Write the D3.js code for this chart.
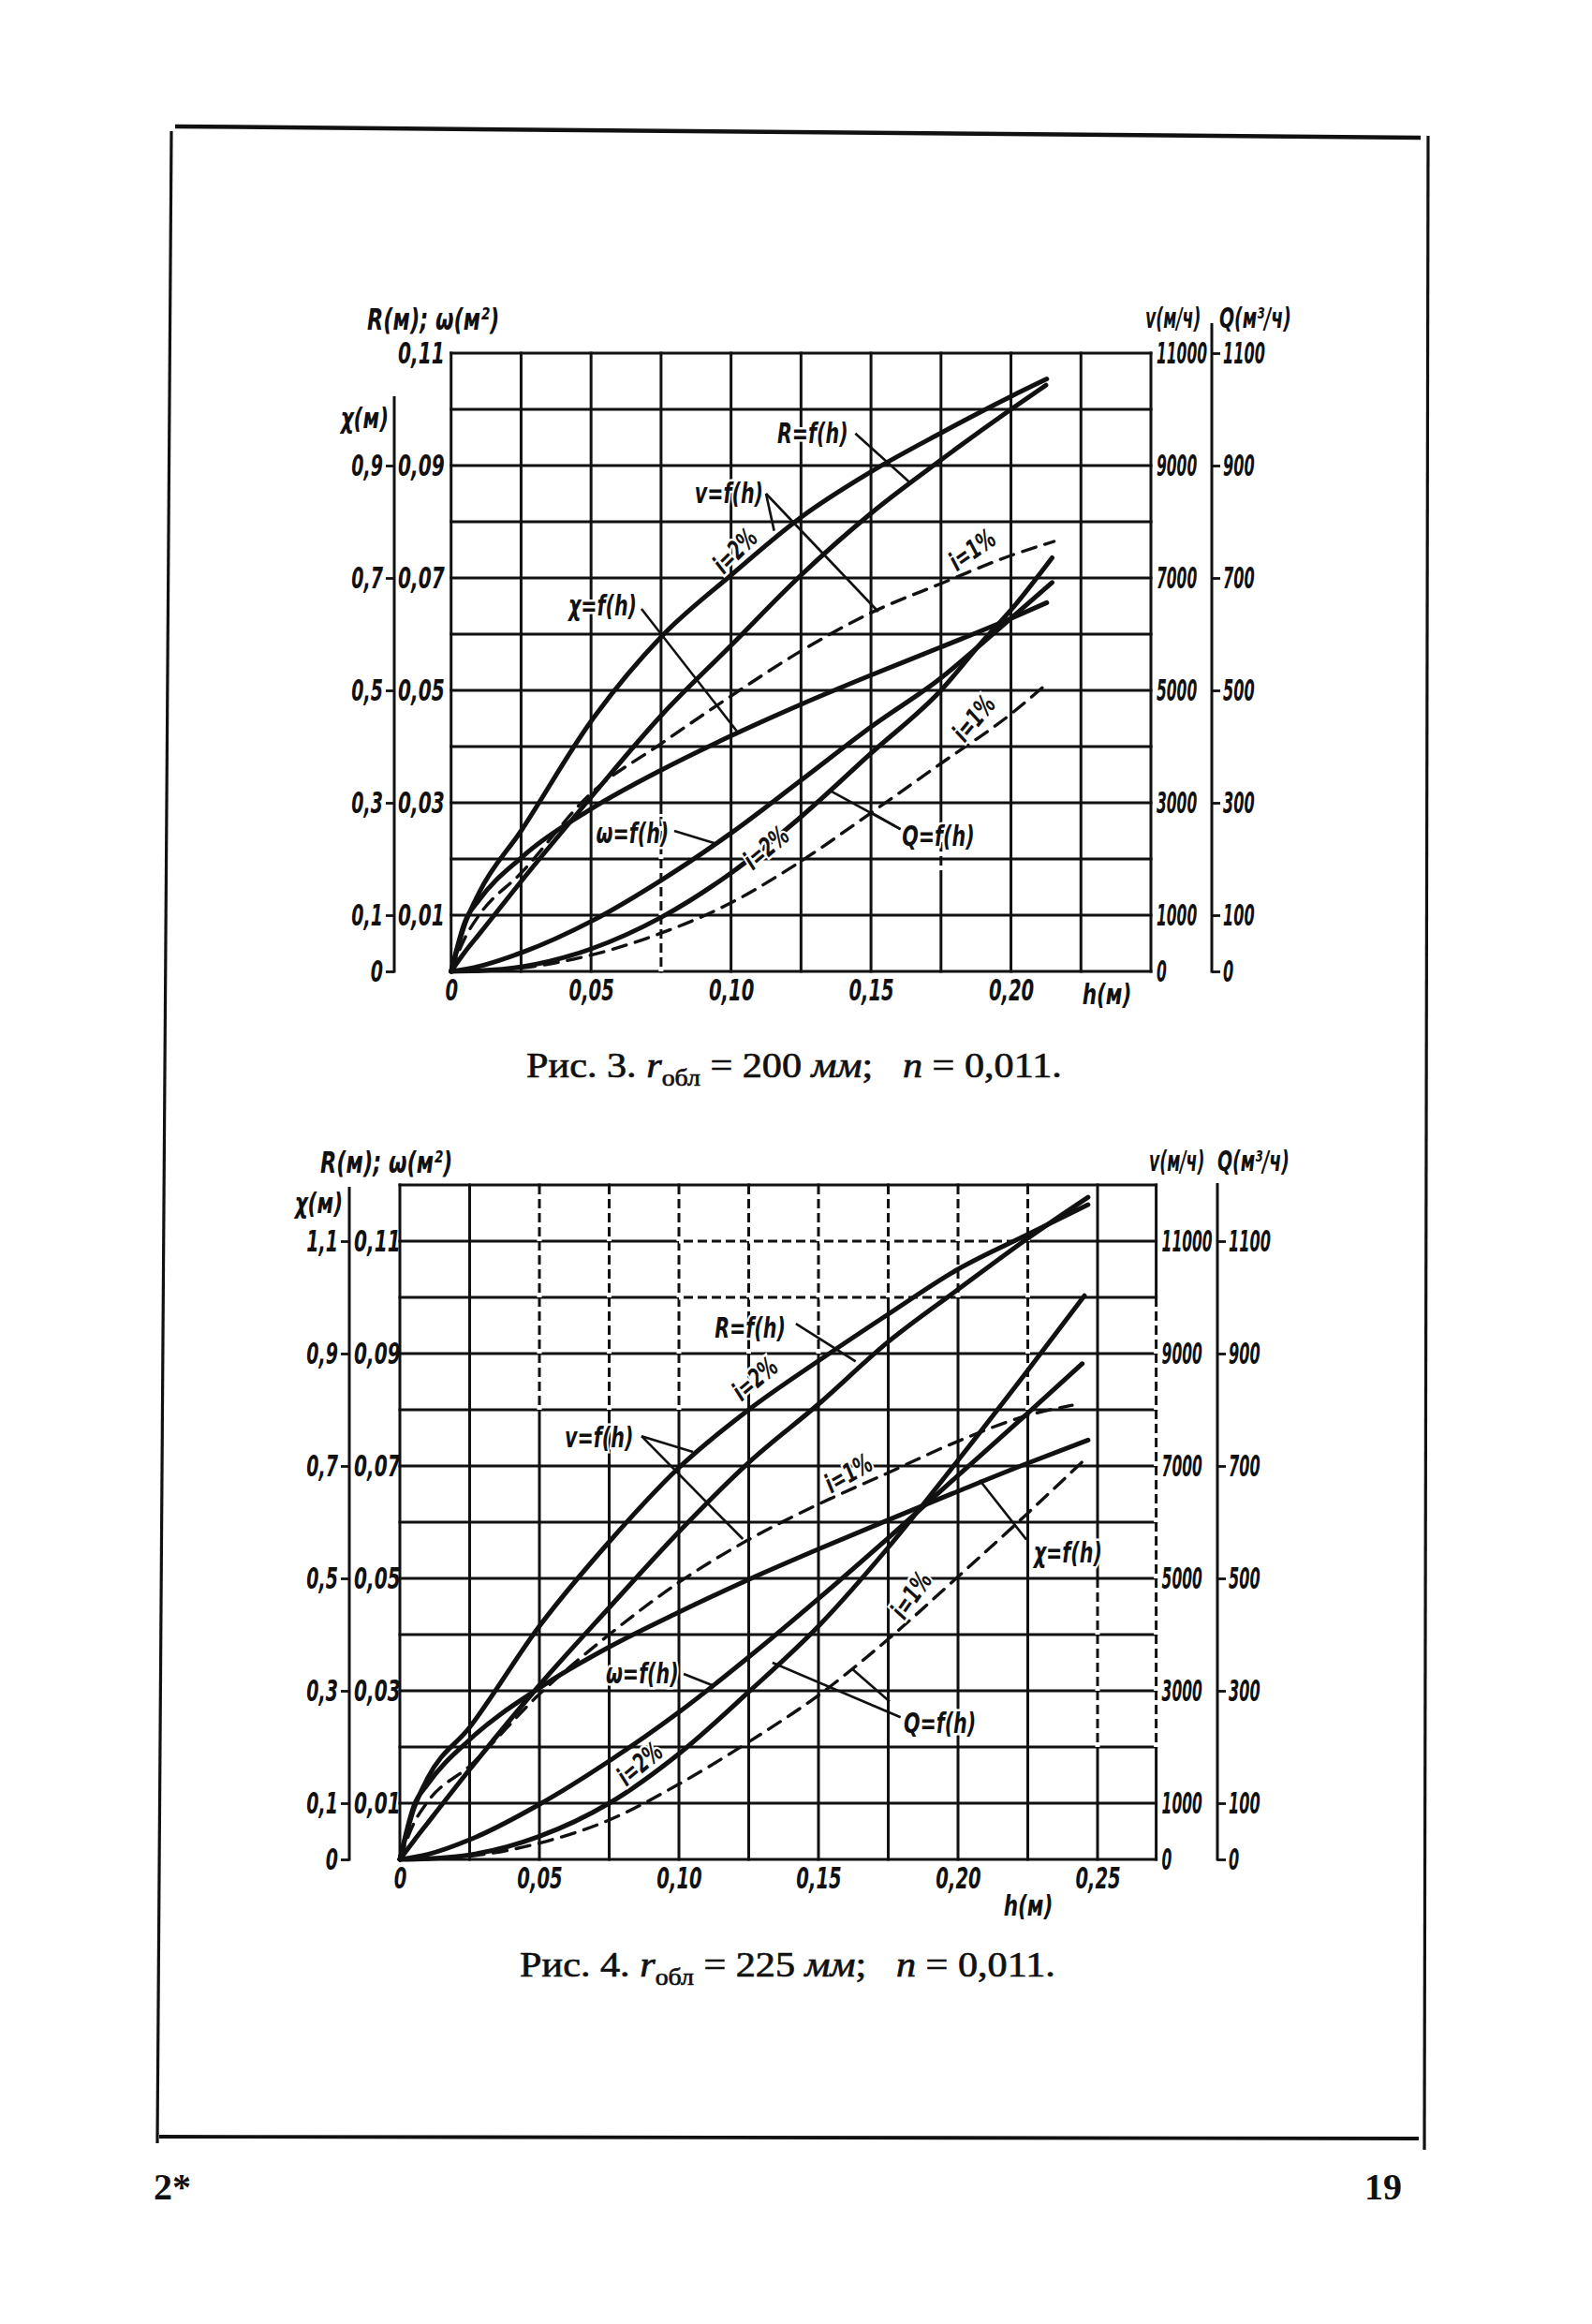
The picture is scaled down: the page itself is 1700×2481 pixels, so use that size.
<!DOCTYPE html>
<html>
<head>
<meta charset="utf-8">
<script src="https://cdn.jsdelivr.net/npm/d3@7"></script>
<style>
  body { margin: 0; background: #fff; }
  .ax { font-family: "DejaVu Sans Condensed", "DejaVu Sans", sans-serif; font-stretch: condensed; font-style: italic; font-weight: bold; }
  .cap { font-family: "Liberation Serif", "DejaVu Serif", serif; white-space: pre; }
</style>
</head>
<body>
<svg id="page" width="1700" height="2481"></svg>
<script>
// ---- Fig. 3, r = 200 mm : [h (m), value] ----
const fig3R = [[0,0],[0.005,0.0035],[0.01,0.0066],[0.025,0.016],[0.05,0.031],[0.075,0.0455],[0.1,0.058],[0.125,0.0705],[0.15,0.0815],[0.175,0.091],[0.2,0.1],[0.2125,0.1043]];
const fig3V2 = [[0,0],[0.005,850],[0.01,1400],[0.025,2500],[0.05,4450],[0.075,5950],[0.1,7050],[0.125,8080],[0.15,8890],[0.175,9580],[0.2,10230],[0.2128,10540]];
const fig3V1 = [[0,0],[0.005,600],[0.01,1000],[0.025,1750],[0.05,3170],[0.075,4050],[0.1,4900],[0.125,5700],[0.15,6380],[0.175,6900],[0.2,7400],[0.2154,7650]];
const fig3Chi = [[0,0],[0.005,0.089],[0.01,0.127],[0.025,0.202],[0.05,0.289],[0.075,0.358],[0.1,0.419],[0.125,0.475],[0.15,0.527],[0.175,0.577],[0.2,0.628],[0.2128,0.656]];
const fig3Omega = [[0,0],[0.01,0.0009],[0.025,0.0033],[0.05,0.0089],[0.075,0.0162],[0.1,0.0246],[0.125,0.034],[0.15,0.0435],[0.175,0.0522],[0.19,0.0585],[0.2,0.0628],[0.2147,0.0692]];
const fig3Q2 = [[0,0],[0.01,1.2],[0.025,8],[0.05,40],[0.075,96],[0.1,175],[0.125,275],[0.15,388],[0.175,500],[0.19,588],[0.2,643],[0.2147,736]];
const fig3Q1 = [[0,0],[0.01,0.8],[0.025,6],[0.05,29],[0.075,68],[0.1,122],[0.125,196],[0.15,282],[0.175,370],[0.2,458],[0.2136,515]];

// ---- Fig. 4, r = 225 mm ----
const fig4R = [[0,0],[0.005,0.0033],[0.01,0.0065],[0.025,0.016],[0.05,0.031],[0.075,0.0448],[0.1,0.0583],[0.125,0.0706],[0.15,0.081],[0.175,0.0921],[0.2,0.1014],[0.225,0.1105],[0.2466,0.1178]];
const fig4V2 = [[0,0],[0.005,900],[0.01,1450],[0.025,2350],[0.05,4150],[0.075,5650],[0.1,6970],[0.125,8000],[0.15,8870],[0.175,9700],[0.2,10500],[0.225,11120],[0.2466,11650]];
const fig4V1 = [[0,0],[0.005,640],[0.01,1030],[0.025,1660],[0.05,2940],[0.075,4000],[0.1,4930],[0.125,5690],[0.15,6320],[0.175,6880],[0.2,7440],[0.225,7900],[0.2409,8080]];
const fig4Chi = [[0,0],[0.005,0.095],[0.01,0.134],[0.025,0.213],[0.05,0.305],[0.075,0.378],[0.1,0.44],[0.125,0.498],[0.15,0.552],[0.175,0.604],[0.2,0.655],[0.225,0.705],[0.2466,0.746]];
const fig4Omega = [[0,0],[0.01,0.0009],[0.025,0.0035],[0.05,0.0098],[0.075,0.0175],[0.1,0.0262],[0.125,0.036],[0.15,0.0464],[0.175,0.0572],[0.2,0.0683],[0.225,0.0794],[0.2445,0.0882]];
const fig4Q2 = [[0,0],[0.01,1.3],[0.025,8],[0.05,41],[0.075,100],[0.1,188],[0.125,298],[0.15,415],[0.175,555],[0.2,710],[0.225,870],[0.2453,1003]];
const fig4Q1 = [[0,0],[0.01,0.9],[0.025,5.7],[0.05,29],[0.075,70],[0.1,134],[0.125,209],[0.15,292],[0.175,392],[0.2,503],[0.225,616],[0.2453,711]];

// ---- tick labels ----
const fig3HTicks = [0, 0.05, 0.10, 0.15, 0.20];
const fig4HTicks = [0, 0.05, 0.10, 0.15, 0.20, 0.25];
const omegaTicks = [0.01, 0.03, 0.05, 0.07, 0.09, 0.11];
const fig3ChiTicks = [0, 0.1, 0.3, 0.5, 0.7, 0.9];
const fig4ChiTicks = [0, 0.1, 0.3, 0.5, 0.7, 0.9, 1.1];
const vTicks = [0, 1000, 3000, 5000, 7000, 9000, 11000];
const qTicks = [0, 100, 300, 500, 700, 900, 1100];

const ink = "#111";
const svg = d3.select("#page");
const ru = d3.formatLocale({decimal: ",", thousands: "", grouping: [3], currency: ["", ""]});
const f2 = ru.format(".2f"), f1 = ru.format(".1f");
const zeroOr = f => d => (d === 0 ? "0" : f(d));

function styleAxis(sel, size, squeeze) {
  sel.attr("font-family", null).attr("font-size", size).attr("class", "ax");
  sel.selectAll(".domain").remove();
  sel.selectAll("line").attr("stroke", ink).attr("stroke-width", 2.8);
  sel.selectAll("text").attr("fill", ink).attr("data-squeeze", squeeze);
}

function drawFigure(cfg) {
  const g = svg.append("g");
  const x = d3.scaleLinear().domain([0, cfg.hMax]).range(cfg.xRange);
  const y = d3.scaleLinear().domain([0, cfg.valMax]).range(cfg.yRange);
  const yChi = d3.scaleLinear().domain([0, cfg.valMax * 10]).range(cfg.yRange);
  const yV = d3.scaleLinear().domain([0, cfg.valMax * 1e5]).range(cfg.yRange);
  const yQ = d3.scaleLinear().domain([0, cfg.valMax * 1e4]).range(cfg.yRange);
  const sc = {w: y, chi: yChi, v: yV, q: yQ};

  // grid
  const vx = d3.range(0, 0.25 + 1e-9, 0.025).concat(cfg.hMax > 0.2501 ? [cfg.hMax] : []);
  const hy = d3.range(0, cfg.valMax + 1e-9, 0.01);
  g.append("g").selectAll("line").data(vx).join("line")
    .attr("x1", d => x(d)).attr("x2", d => x(d))
    .attr("y1", y(0) + 1.5).attr("y2", y(cfg.valMax) - 1.5)
    .attr("stroke", ink).attr("stroke-width", 3);
  g.append("g").selectAll("line").data(hy).join("line")
    .attr("x1", x(0) - 1.5).attr("x2", x(cfg.hMax) + 1.5)
    .attr("y1", d => y(d)).attr("y2", d => y(d))
    .attr("stroke", ink).attr("stroke-width", 3);
  // broken (dash-dot) stretches of the printed grid
  const gaps = g.append("g").attr("stroke", "#fff").attr("stroke-width", 5).attr("stroke-dasharray", "5,10");
  cfg.brokenV.forEach(b => gaps.append("line")
    .attr("x1", x(b[0])).attr("x2", x(b[0])).attr("y1", y(b[1])).attr("y2", y(b[2])));
  cfg.brokenH.forEach(b => gaps.append("line")
    .attr("y1", y(b[0])).attr("y2", y(b[0])).attr("x1", x(b[1])).attr("x2", x(b[2])));

  // curves
  cfg.series.forEach(s => {
    g.append("path").datum(s.data)
      .attr("d", d3.line().x(d => x(d[0])).y(d => sc[s.axis](d[1])).curve(d3.curveMonotoneX))
      .attr("fill", "none").attr("stroke", ink)
      .attr("stroke-width", s.dashed ? 3.4 : 5)
      .attr("stroke-dasharray", s.dashed ? "15,10" : null)
      .attr("stroke-linecap", "round");
  });

  // leaders
  cfg.leaders.forEach(l => {
    g.append("line")
      .attr("x1", x(l[0][0])).attr("y1", y(l[0][1]))
      .attr("x2", x(l[1][0])).attr("y2", y(l[1][1]))
      .attr("stroke", ink).attr("stroke-width", 2.6);
  });

  // left χ axis
  g.append("line").attr("x1", cfg.chiX).attr("x2", cfg.chiX)
    .attr("y1", cfg.chiTop).attr("y2", y(0) + 1.5)
    .attr("stroke", ink).attr("stroke-width", 3);
  g.append("g").attr("transform", `translate(${cfg.chiX},0)`)
    .call(d3.axisLeft(yChi).tickValues(cfg.chiTicks).tickSize(9).tickPadding(3).tickFormat(zeroOr(f1)))
    .call(a => styleAxis(a, 32, 0.66));
  // ω / R labels
  g.append("g").attr("transform", `translate(${cfg.chiX},0)`)
    .call(d3.axisRight(y).tickValues(omegaTicks).tickSize(0).tickPadding(cfg.wPad).tickFormat(f2))
    .call(a => styleAxis(a, 32, 0.7));
  // v labels
  g.append("g").attr("transform", `translate(${x(cfg.hMax)},0)`)
    .call(d3.axisRight(yV).tickValues(vTicks).tickSize(0).tickPadding(6).tickFormat(d => String(d)))
    .call(a => styleAxis(a, 32, 0.54));
  // Q axis
  g.append("line").attr("x1", cfg.qX).attr("x2", cfg.qX)
    .attr("y1", cfg.qTop).attr("y2", y(0) + 1.5)
    .attr("stroke", ink).attr("stroke-width", 3);
  g.append("g").attr("transform", `translate(${cfg.qX},0)`)
    .call(d3.axisRight(yQ).tickValues(qTicks).tickSize(9).tickPadding(3).tickFormat(d => String(d)))
    .call(a => styleAxis(a, 32, 0.56));
  // h axis labels
  g.append("g").attr("transform", `translate(0,${y(0)})`)
    .call(d3.axisBottom(x).tickValues(cfg.hTicks).tickSize(0).tickPadding(8).tickFormat(zeroOr(f2)))
    .call(a => styleAxis(a, 32, 0.68));

  // titles
  const t = (str, p, anchor, size, squeeze) => g.append("text").attr("class", "ax")
    .attr("x", p[0]).attr("y", p[1]).attr("text-anchor", anchor).attr("font-size", size)
    .attr("data-squeeze", squeeze).attr("fill", ink).text(str);
  t("R(м); ω(м²)", cfg.titleRW, "start", 32, 0.78);
  t("χ(м)", cfg.titleChi, "end", 30, 0.8);
  t("v(м/ч)", cfg.titleV, "start", 30, 0.64);
  t("Q(м³/ч)", cfg.titleQ, "start", 30, 0.7);
  t("h(м)", cfg.hLabel, "middle", 30, 0.8);

  // curve labels
  cfg.labels.forEach(l => {
    const px = x(l.at[0]), py = y(l.at[1]);
    g.append("text").attr("class", "ax")
      .attr("x", px).attr("y", py)
      .attr("text-anchor", l.rot ? "middle" : "start")
      .attr("dy", l.rot ? "0.35em" : null)
      .attr("transform", l.rot ? `rotate(${l.rot},${px},${py})` : null)
      .attr("font-size", l.size || 31)
      .attr("data-squeeze", 0.74)
      .attr("fill", ink).attr("stroke", "#fff").attr("stroke-width", 5)
      .attr("paint-order", "stroke")
      .text(l.text);
  });
}

drawFigure({
  hMax: 0.25, valMax: 0.11, xRange: [481.7, 1229], yRange: [1037, 377],
  chiX: 421, chiTop: 423, wPad: 4, qX: 1294, qTop: 345,
  chiTicks: fig3ChiTicks, hTicks: fig3HTicks,
  titleRW: [392, 352], titleChi: [415, 457], titleV: [1223, 350], titleQ: [1302, 350], hLabel: [1182, 1072],
  brokenV: [[0.075, 0, 0.028], [0.175, 0.018, 0.028]],
  brokenH: [],
  series: [
    {data: fig3R, axis: "w"}, {data: fig3V2, axis: "v"}, {data: fig3V1, axis: "v", dashed: true},
    {data: fig3Chi, axis: "chi"}, {data: fig3Omega, axis: "w"},
    {data: fig3Q2, axis: "q"}, {data: fig3Q1, axis: "q", dashed: true}
  ],
  leaders: [
    [[0.1444, 0.0957], [0.1643, 0.0868]],
    [[0.1125, 0.0850], [0.1154, 0.0784]],
    [[0.1125, 0.0850], [0.1526, 0.0640]],
    [[0.0680, 0.0645], [0.1020, 0.0428]],
    [[0.0797, 0.0250], [0.0942, 0.0228]],
    [[0.1605, 0.0253], [0.1348, 0.0323]],
    [[0.1605, 0.0253], [0.1496, 0.0284]]
  ],
  labels: [
    {text: "R=f(h)", at: [0.1165, 0.0940]},
    {text: "v=f(h)", at: [0.0870, 0.0833]},
    {text: "i=2%", at: [0.1014, 0.0748], rot: -45, size: 28},
    {text: "χ=f(h)", at: [0.0419, 0.0633]},
    {text: "i=1%", at: [0.1861, 0.0750], rot: -35, size: 28},
    {text: "ω=f(h)", at: [0.0518, 0.0228]},
    {text: "i=2%", at: [0.1125, 0.0220], rot: -40, size: 28},
    {text: "Q=f(h)", at: [0.1611, 0.0223]},
    {text: "i=1%", at: [0.1867, 0.0450], rot: -50, size: 28}
  ]
});

drawFigure({
  hMax: 0.271, valMax: 0.12, xRange: [427, 1234.6], yRange: [1985, 1265],
  chiX: 373, chiTop: 1267, wPad: 5, qX: 1300, qTop: 1263,
  chiTicks: fig4ChiTicks, hTicks: fig4HTicks,
  titleRW: [342, 1252], titleChi: [366, 1295], titleV: [1227, 1250], titleQ: [1300, 1250], hLabel: [1098, 2045],
  brokenV: [[0.05, 0.08, 0.12], [0.075, 0.08, 0.12], [0.1, 0.08, 0.12], [0.125, 0.09, 0.12], [0.15, 0.09, 0.12],
            [0.175, 0.10, 0.12], [0.2, 0.10, 0.12], [0.225, 0.08, 0.12], [0.25, 0.02, 0.05], [0.271, 0.02, 0.10]],
  brokenH: [[0.11, 0.10, 0.225], [0.10, 0.10, 0.2]],
  series: [
    {data: fig4R, axis: "w"}, {data: fig4V2, axis: "v"}, {data: fig4V1, axis: "v", dashed: true},
    {data: fig4Chi, axis: "chi"}, {data: fig4Omega, axis: "w"},
    {data: fig4Q2, axis: "q"}, {data: fig4Q1, axis: "q", dashed: true}
  ],
  leaders: [
    [[0.1419, 0.0953], [0.1633, 0.0886]],
    [[0.0866, 0.0753], [0.1050, 0.0725]],
    [[0.0866, 0.0753], [0.1229, 0.0570]],
    [[0.2245, 0.0569], [0.2077, 0.0675]],
    [[0.1017, 0.0330], [0.1129, 0.0308]],
    [[0.1794, 0.0253], [0.1335, 0.0350]],
    [[0.1755, 0.0281], [0.1620, 0.0339]]
  ],
  labels: [
    {text: "R=f(h)", at: [0.1128, 0.0928]},
    {text: "i=2%", at: [0.1272, 0.0855], rot: -40, size: 28},
    {text: "v=f(h)", at: [0.0591, 0.0733]},
    {text: "i=1%", at: [0.1607, 0.0687], rot: -30, size: 28},
    {text: "χ=f(h)", at: [0.2271, 0.0528]},
    {text: "ω=f(h)", at: [0.0738, 0.0313]},
    {text: "i=2%", at: [0.0859, 0.0170], rot: -40, size: 28},
    {text: "Q=f(h)", at: [0.1805, 0.0225]},
    {text: "i=1%", at: [0.1832, 0.0470], rot: -55, size: 28}
  ]
});

// captions
function caption(num, r, cx, py) {
  const c = svg.append("text").attr("class", "cap").attr("x", cx).attr("y", py)
    .attr("text-anchor", "middle").attr("font-size", 38).attr("fill", ink)
    .attr("stroke", ink).attr("stroke-width", 0.7)
    .attr("data-width", 572);
  c.append("tspan").text(`Рис. ${num}. `);
  c.append("tspan").attr("font-style", "italic").text("r");
  c.append("tspan").attr("font-size", 25).attr("dy", 9).text("обл");
  c.append("tspan").attr("dy", -9).text(` = ${r} `);
  c.append("tspan").attr("font-style", "italic").text("мм");
  c.append("tspan").text(";   ");
  c.append("tspan").attr("font-style", "italic").text("n");
  c.append("tspan").text(" = 0,011.");
}
caption(3, 200, 848, 1150);
caption(4, 225, 841, 2110);

// page frame and folio
const frame = [[[187, 135], [1517, 147], 4.5], [[183, 140], [168, 2288], 3.2], [[1525, 145], [1521, 2295], 3.2], [[170, 2281], [1515, 2283], 3.8]];
frame.forEach(f => svg.append("line").attr("x1", f[0][0]).attr("y1", f[0][1]).attr("x2", f[1][0]).attr("y2", f[1][1])
  .attr("stroke", ink).attr("stroke-width", f[2]));
svg.append("text").attr("class", "cap").attr("x", 164).attr("y", 2348).attr("font-size", 40).attr("font-weight", "bold").attr("fill", ink).text("2*");
svg.append("text").attr("class", "cap").attr("x", 1497).attr("y", 2348).attr("text-anchor", "end").attr("font-size", 40).attr("font-weight", "bold").attr("fill", ink).text("19");

// squeeze the lettering horizontally (narrow, tall figures of the original)
function squeezeText(el, s) {
  const x0 = +(el.getAttribute("x") || 0), y0 = +(el.getAttribute("y") || 0);
  const pre = el.getAttribute("transform") || "";
  el.setAttribute("x", 0);
  el.setAttribute("y", 0);
  el.setAttribute("transform", `${pre} translate(${x0},${y0}) scale(${s.toFixed(3)},1)`);
}
document.querySelectorAll("text[data-squeeze]").forEach(el => squeezeText(el, +el.getAttribute("data-squeeze")));
document.querySelectorAll("text[data-width]").forEach(el => squeezeText(el, +el.getAttribute("data-width") / el.getComputedTextLength()));
</script>
</body>
</html>
